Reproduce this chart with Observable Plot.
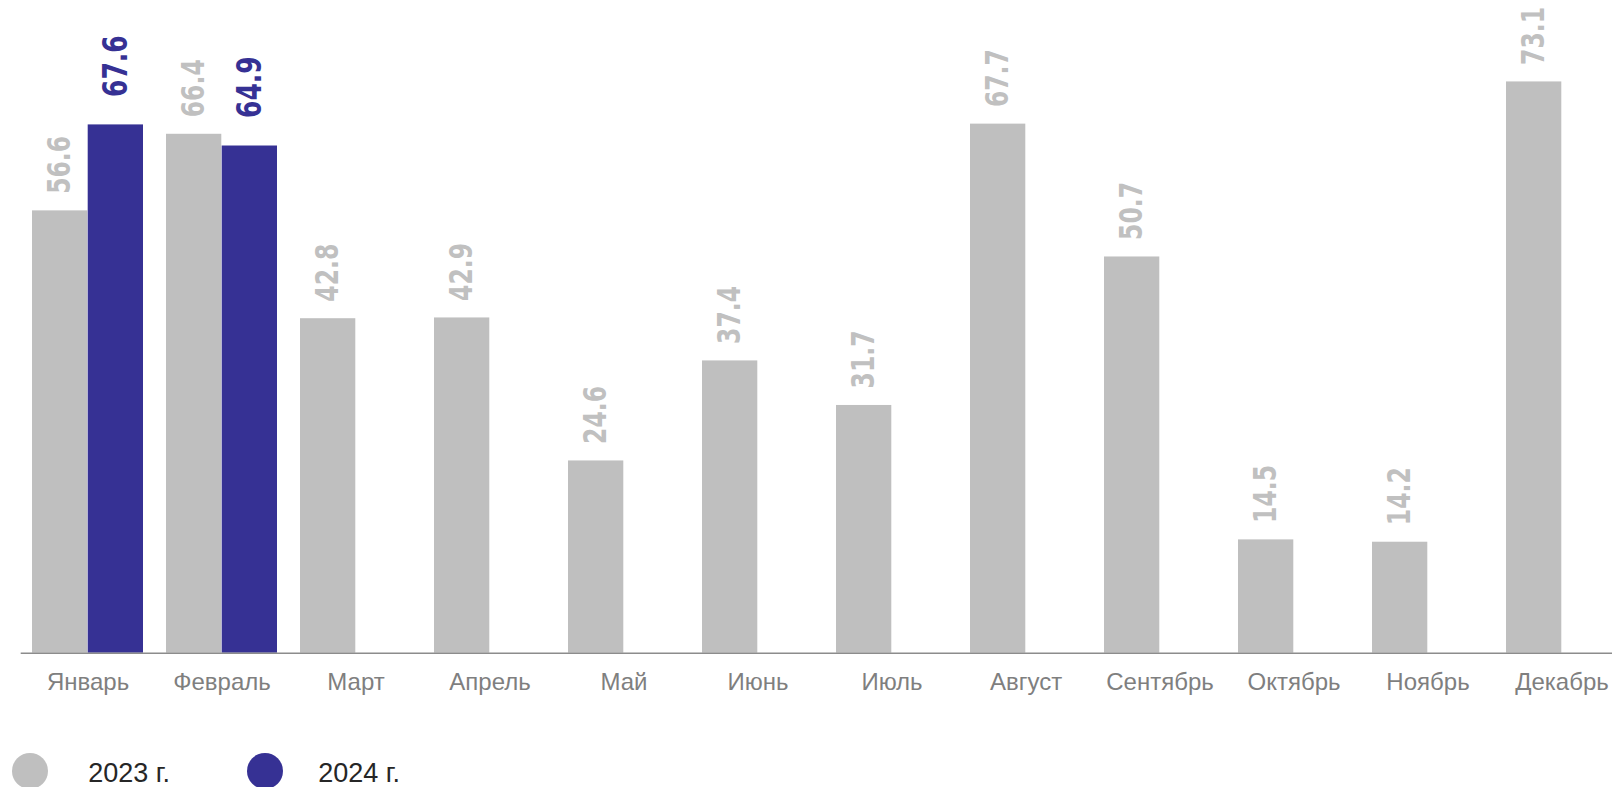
<!DOCTYPE html>
<html><head><meta charset="utf-8">
<script src="https://cdn.jsdelivr.net/npm/d3@7"></script>
<script src="https://cdn.jsdelivr.net/npm/@observablehq/plot@0.6"></script>
<style>
body{margin:0;background:#fff;}
#wrap{position:relative;width:1612px;height:787px;overflow:hidden;}
#legend{position:absolute;left:0;top:753px;width:1612px;height:40px;font-family:'Liberation Sans',Arial,sans-serif;font-size:27px;color:#262626;}
.dot{position:absolute;top:0;width:36px;height:36px;border-radius:50%;}
.lab{position:absolute;top:5px;white-space:nowrap;line-height:30px;}
</style></head><body>
<div id="wrap"><div id="chart"></div><div id="legend"></div></div>
<script>
const months = ["Январь","Февраль","Март","Апрель","Май","Июнь","Июль","Август","Сентябрь","Октябрь","Ноябрь","Декабрь"];
const values2023 = [56.6,66.4,42.8,42.9,24.6,37.4,31.7,67.7,50.7,14.5,14.2,73.1];
const values2024 = [67.6,64.9,null,null,null,null,null,null,null,null,null,null];
const years = ["2023 г.","2024 г."];
const colors = ["#bfbfbf","#363194"];
const labelColors = ["#c0c0c0","#363194"];

const d2023 = months.map((m,i)=>({month:m, value:values2023[i]}));
const d2024 = months.map((m,i)=>({month:m, value:values2024[i]})).filter(d=>d.value!=null);

const half = 55.7;
const fmt = d => d.value.toFixed(1);

const chart = Plot.plot({
  width:1612, height:720,
  marginLeft:20.7, marginRight:0, marginTop:27.5, marginBottom:67.3,
  style:{fontFamily:"'Liberation Sans', Arial, sans-serif", color:"#7f7f7f", background:"transparent", overflow:"hidden"},
  x:{type:"band", domain:months, range:[32,1618.5], paddingInner:0.169, paddingOuter:0, align:0, label:null},
  y:{domain:[0,80], axis:null},
  marks:[
    Plot.barY(d2023,{x:"month", y:"value", fill:colors[0], insetLeft:0, insetRight:half}),
    Plot.barY(d2024,{x:"month", y:"value", fill:colors[1], insetLeft:half, insetRight:0}),
    Plot.ruleY([0],{stroke:"#8c8c8c", strokeWidth:1.5}),
    Plot.text(d2023,{x:"month", y:"value", text:fmt, rotate:-90, textAnchor:"start", dx:-half/2, dy:-17, fill:labelColors[0], fontSize:32, fontWeight:"bold", fontFamily:"DejaVu Sans"}),
    Plot.text(d2024,{x:"month", y:"value", text:fmt, rotate:-90, textAnchor:"start", dx:half/2, dy:-28, fill:labelColors[1], fontSize:34, fontWeight:"bold", fontFamily:"DejaVu Sans"}),
    Plot.axisX({tickSize:0, tickPadding:20, fontSize:24, label:null})
  ]
});
document.getElementById("chart").appendChild(chart);
chart.querySelectorAll("text[transform*='rotate']").forEach(t=>{
  t.setAttribute("transform", t.getAttribute("transform")+" scale(0.735,1)");
});

const legend = d3.select("#legend");
const dotX = [12.3, 247];
const labX = [88.3, 318.3];
years.forEach((y,i)=>{
  legend.append("div").attr("class","dot").style("left",dotX[i]+"px").style("background",colors[i]);
  legend.append("div").attr("class","lab").style("left",labX[i]+"px").text(y);
});
</script>
</body></html>
